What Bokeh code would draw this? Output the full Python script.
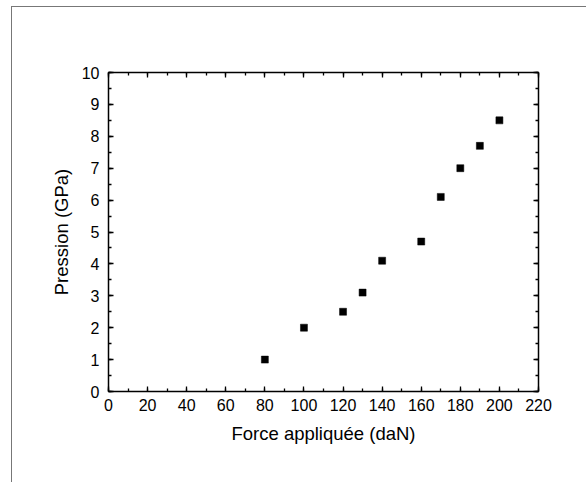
from bokeh.plotting import figure
from bokeh.models import Range1d, LinearAxis, SingleIntervalTicker, CustomJSTickFormatter
from bokeh.embed import file_html
from bokeh.resources import INLINE

# Data
force_daN = [80, 100, 120, 130, 140, 160, 170, 180, 190, 200]
pression_GPa = [1.0, 2.0, 2.5, 3.1, 4.1, 4.7, 6.1, 7.0, 7.7, 8.5]

x_label = "Force appliquée (daN)"
y_label = "Pression (GPa)"

FONT = "Liberation Sans"

p = figure(width=575, height=476, output_backend="svg", toolbar_location=None,
           x_range=Range1d(0, 220), y_range=Range1d(0, 10),
           min_border_left=96, min_border_right=49, min_border_top=65, min_border_bottom=92,
           x_axis_location=None, y_axis_location=None)
p.styles = {"border-left": "1px solid #777777", "border-top": "1px solid #777777",
            "margin-left": "11px", "margin-top": "6px"}
p.grid.visible = False
p.outline_line_color = None
p.background_fill_color = "white"
p.border_fill_color = "white"

def make_axis(ticker_interval, labels=True):
    ax = LinearAxis(ticker=SingleIntervalTicker(interval=ticker_interval, num_minor_ticks=2))
    ax.axis_line_color = "black"
    ax.axis_line_width = 1.5
    ax.major_tick_in = 5
    ax.major_tick_out = 0
    ax.minor_tick_in = 3
    ax.minor_tick_out = 0
    ax.major_tick_line_color = "black"
    ax.minor_tick_line_color = "black"
    ax.major_tick_line_width = 1.3
    ax.minor_tick_line_width = 1.3
    ax.major_label_text_font = FONT
    ax.major_label_text_font_size = "16px"
    ax.major_label_text_color = "black"
    ax.axis_label_text_font = FONT
    ax.axis_label_text_font_size = "18.5px"
    ax.axis_label_text_font_style = "normal"
    ax.axis_label_text_color = "black"
    if not labels:
        ax.formatter = CustomJSTickFormatter(code="return ''")
        ax.major_label_text_font_size = "0px"
        ax.major_label_standoff = 0
    return ax

xb = make_axis(20)
xb.axis_label = x_label
xb.major_label_standoff = 7
xb.axis_label_standoff = 9
p.add_layout(xb, "below")

yl = make_axis(1)
yl.axis_label = y_label
yl.major_label_standoff = 9
yl.axis_label_standoff = 7
p.add_layout(yl, "left")

p.add_layout(make_axis(20, labels=False), "above")
p.add_layout(make_axis(1, labels=False), "right")

p.scatter(force_daN, pression_GPa, marker="square", size=7,
          fill_color="black", line_color="black", line_width=0.5)

open("out.html", "w").write(file_html(p, INLINE))
